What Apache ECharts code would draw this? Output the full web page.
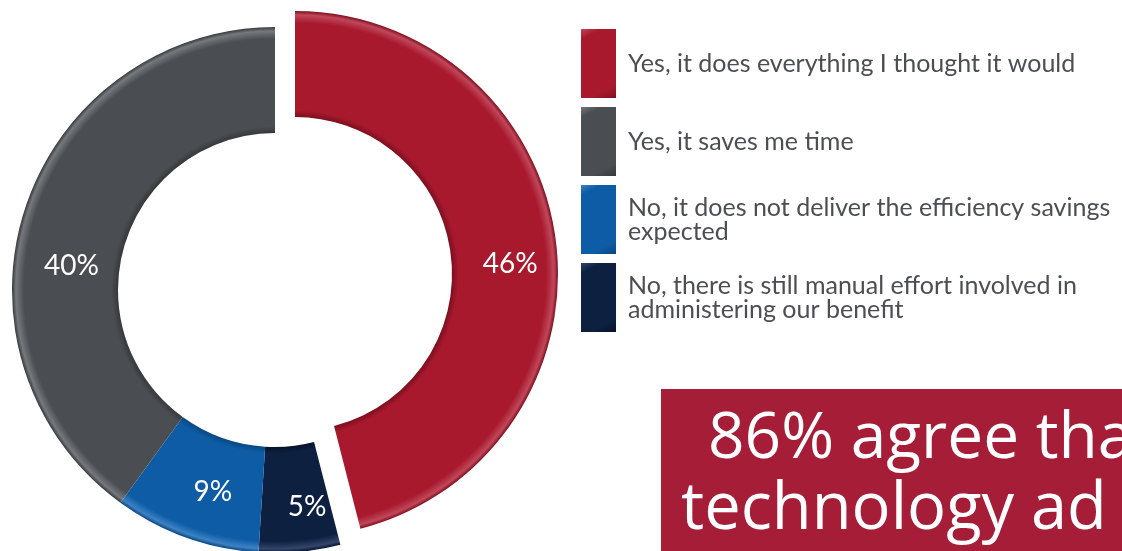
<!DOCTYPE html>
<html>
<head>
<meta charset="utf-8">
<title>Does the technology deliver?</title>
<script src="https://cdn.jsdelivr.net/npm/echarts@6/dist/echarts.min.js"></script>
<style>
  html, body { margin: 0; padding: 0; background: #ffffff; }
  #chart { width: 1122px; height: 551px; }
</style>
</head>
<body>
<div id="chart"></div>
<script>
// Survey answers, in drawing order (clockwise from 12 o'clock)
const categories = [
  'Yes, it does everything I thought it would',
  'No, there is still manual effort involved in administering our benefit',
  'No, it does not deliver the efficiency savings expected',
  'Yes, it saves me time'
];
const shares = [46, 5, 9, 40];

// Legend order and wrapped legend text
const legendOrder = [0, 3, 2, 1];
const legendText = [
  'Yes, it does everything I thought it would',
  'No, there is still manual effort involved in\nadministering our benefit',
  'No, it does not deliver the efficiency savings\nexpected',
  'Yes, it saves me time'
];

const bannerLines = ['86% agree tha', 'technology ad'];

const palette = ['#A8192E', '#0D2040', '#0D5CA5', '#4A4D51'];
const paletteDark = ['#7E0F1F', '#06122A', '#0A4780', '#36383C'];
const paletteLight = ['#C0475A', '#33456A', '#3C82C4', '#75787C'];

// label nudges so each percentage sits where it reads best in its band
const labelNudge = [[4, 17], [12, 5], [10, 2], [-1, 42]];

const ringCenter = [275, 290];
const explodedCenter = [295, 274];
const rInner = 157, rOuter = 263;

function bevel(i, center) {
  const t0 = rInner / rOuter;
  return {
    type: 'radial', global: true,
    x: center[0], y: center[1], r: rOuter,
    colorStops: [
      { offset: t0, color: paletteDark[i] },
      { offset: t0 + 0.025, color: palette[i] },
      { offset: 0.955, color: palette[i] },
      { offset: 0.985, color: paletteLight[i] },
      { offset: 1, color: paletteDark[i] }
    ]
  };
}

function ringData(center, showIndex) {
  return categories.map((name, i) => {
    const visible = showIndex(i);
    return {
      name: name,
      value: shares[i],
      itemStyle: { color: visible ? bevel(i, center) : 'rgba(0,0,0,0)' },
      label: {
        show: visible,
        offset: labelNudge[i]
      }
    };
  });
}

const pieBase = {
  type: 'pie',
  radius: [rInner, rOuter],
  startAngle: 90,
  clockwise: true,
  silent: true,
  avoidLabelOverlap: false,
  itemStyle: { borderWidth: 0 },
  label: {
    position: 'inside',
    formatter: '{c}%',
    color: '#ffffff',
    fontFamily: 'Lato',
    fontSize: 28
  },
  labelLine: { show: false },
  emphasis: { disabled: true }
};

const chart = echarts.init(document.getElementById('chart'), null, { renderer: 'canvas' });

chart.setOption({
  animation: false,
  backgroundColor: '#ffffff',
  legend: {
    orient: 'vertical',
    left: 581,
    top: 29,
    padding: 0,
    icon: 'rect',
    itemWidth: 35,
    itemHeight: 69,
    itemGap: 9,
    selectedMode: false,
    data: legendOrder.map(i => ({
      name: categories[i],
      itemStyle: {
        color: {
          type: 'linear', x: 0, y: 0, x2: 1, y2: 1,
          colorStops: [
            { offset: 0, color: paletteLight[i] },
            { offset: 0.12, color: palette[i] },
            { offset: 0.85, color: palette[i] },
            { offset: 1, color: paletteDark[i] }
          ]
        }
      }
    })),
    formatter: name => legendText[categories.indexOf(name)],
    textStyle: {
      fontFamily: 'Lato',
      fontSize: 25,
      lineHeight: 24,
      color: '#4B4E53',
      padding: [7, 0, 0, 7]
    }
  },
  series: [
    Object.assign({}, pieBase, {
      name: 'ring',
      center: ringCenter,
      data: ringData(ringCenter, i => i !== 0)
    }),
    Object.assign({}, pieBase, {
      name: 'exploded',
      center: explodedCenter,
      data: ringData(explodedCenter, i => i === 0)
    })
  ],
  graphic: [
    {
      type: 'rect',
      shape: { x: 661, y: 389, width: 461, height: 162 },
      style: { fill: '#A61D37' },
      silent: true
    },
    {
      type: 'text',
      x: 708, y: 440,
      style: {
        text: bannerLines[0],
        fill: '#ffffff',
        font: '64px "Open Sans"',
        textAlign: 'left',
        textVerticalAlign: 'middle'
      },
      silent: true
    },
    {
      type: 'text',
      x: 681, y: 510,
      style: {
        text: bannerLines[1],
        fill: '#ffffff',
        font: '65px "Open Sans"',
        textAlign: 'left',
        textVerticalAlign: 'middle'
      },
      silent: true
    }
  ]
});
</script>
</body>
</html>
